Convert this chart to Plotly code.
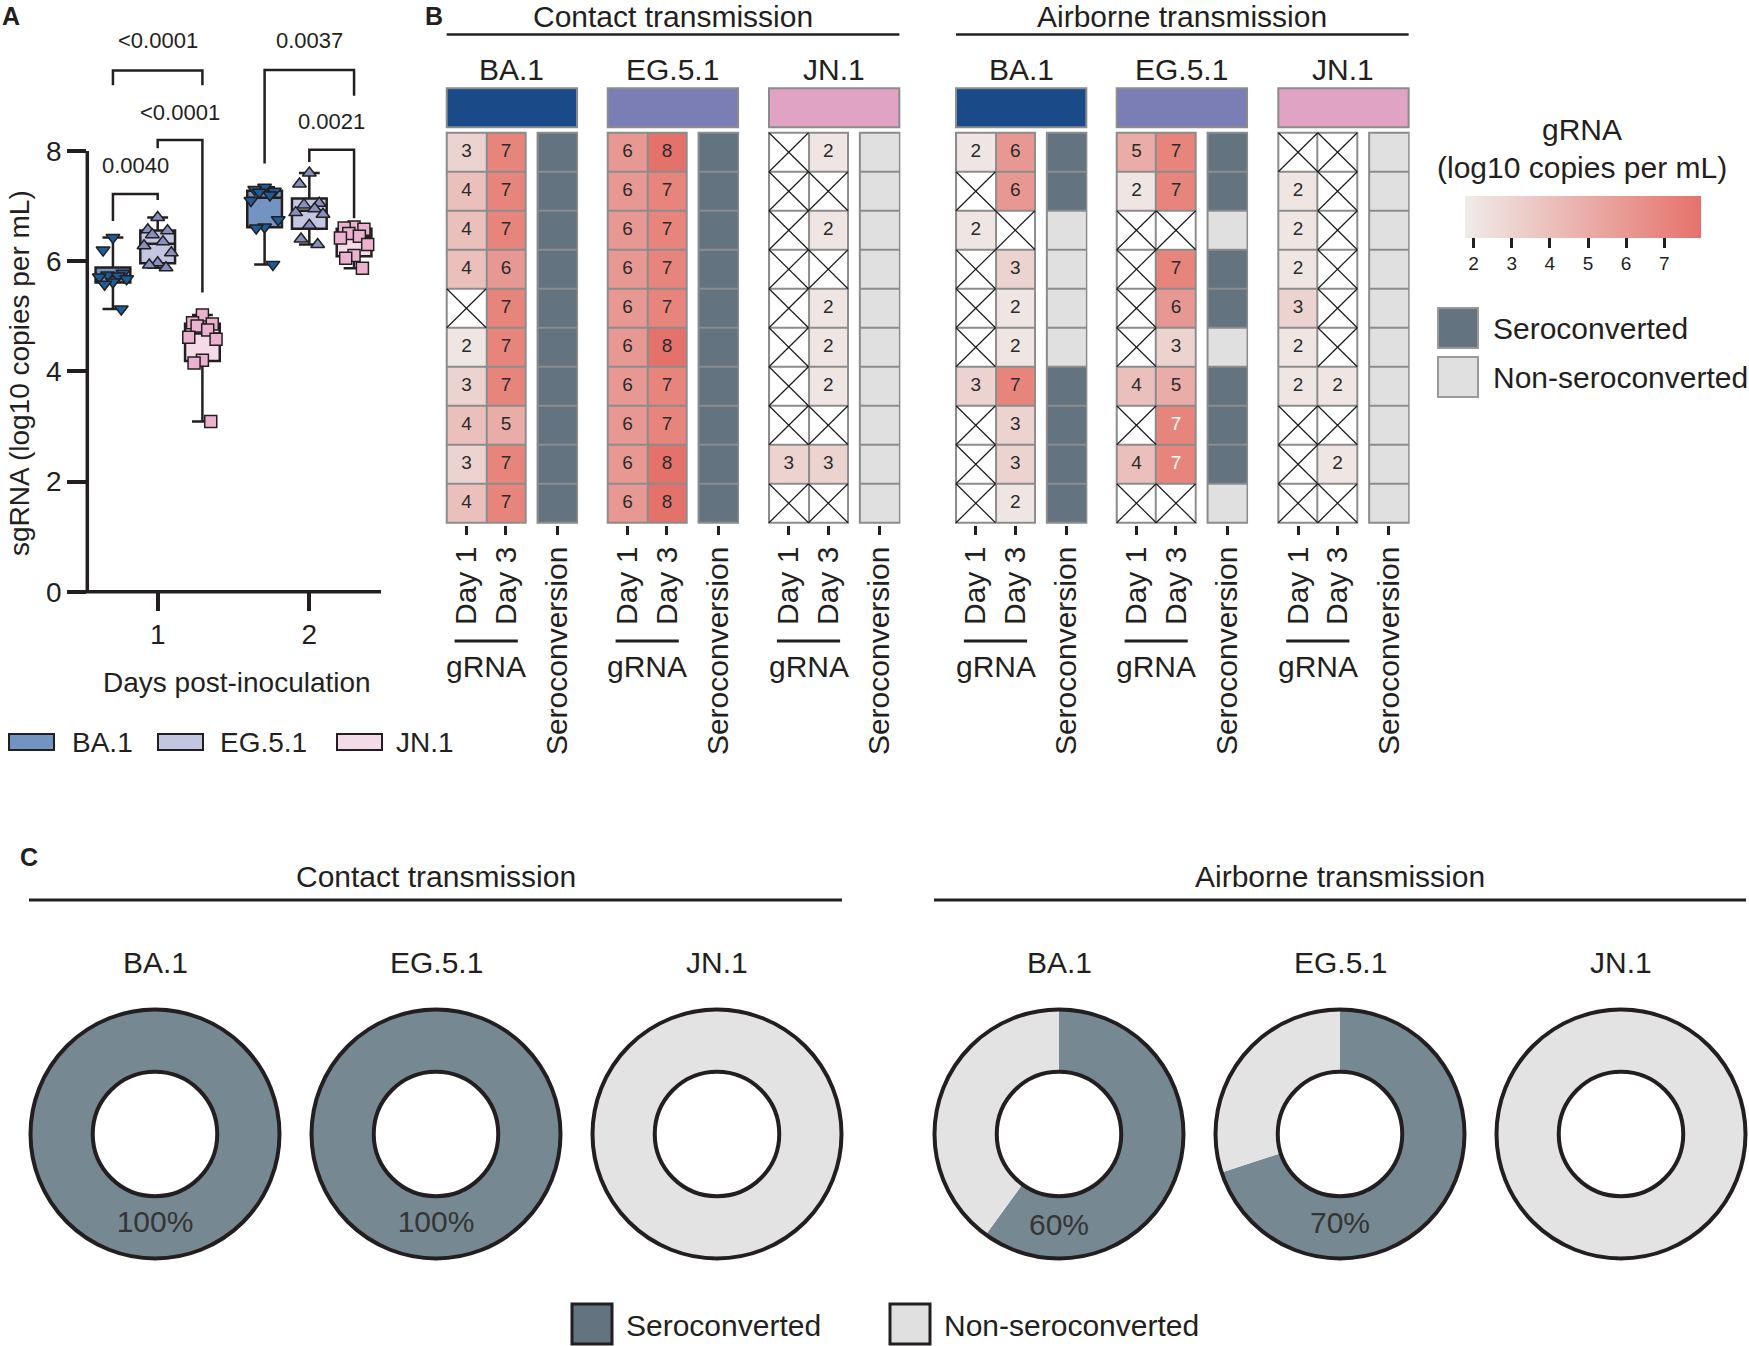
import numpy as np
import plotly.graph_objects as go

W, H = 1749, 1346
FONT = "Liberation Sans, Arial, Helvetica, sans-serif"
INK = "#231f20"

# ---------------- Panel A data (sgRNA, log10 copies per mL) ----------------
DAYS = [1, 2]
VARIANTS = ["BA.1", "EG.5.1", "JN.1"]
SG_BA1_DAY1 = [6.43, 6.20, 5.78, 5.75, 5.73, 5.71, 5.68, 5.62, 5.58, 5.13]
SG_EG51_DAY1 = [6.79, 6.57, 6.55, 6.48, 6.35, 6.28, 6.15, 5.97, 5.93, 5.88]
SG_JN1_DAY1 = [5.02, 4.88, 4.86, 4.82, 4.75, 4.62, 4.58, 4.20, 4.15, 3.09]
SG_BA1_DAY2 = [7.34, 7.30, 7.27, 7.25, 7.20, 7.10, 6.75, 6.62, 6.60, 5.94]
SG_EG51_DAY2 = [7.60, 7.40, 7.05, 7.02, 6.95, 6.88, 6.85, 6.65, 6.40, 6.30]
SG_JN1_DAY2 = [6.62, 6.60, 6.58, 6.50, 6.45, 6.42, 6.30, 6.10, 6.05, 5.87]

# comparisons: day, variant a, variant b, bar level, leg a end, leg b end, label level, p value
COMPARISONS = [
    (1, "BA.1", "EG.5.1", 7.22, 6.73, 7.11, 7.73, "0.0040"),
    (1, "EG.5.1", "JN.1", 8.20, 8.05, 5.43, 8.69, "<0.0001"),
    (1, "BA.1", "JN.1", 9.46, 9.19, 9.19, 10.0, "<0.0001"),
    (2, "BA.1", "JN.1", 9.47, 7.77, 9.00, 10.0, "0.0037"),
    (2, "EG.5.1", "JN.1", 8.02, 7.80, 6.78, 8.53, "0.0021"),
]

# ---------------- Panel B data (gRNA, log10 copies per mL; None = not detected) ----------------
ROUTES = ["Contact transmission", "Airborne transmission"]
COLUMNS = ["Day 1", "Day 3", "Seroconversion"]
CONTACT_BA1_DAY1 = [3, 4, 4, 4, None, 2, 3, 4, 3, 4]
CONTACT_BA1_DAY3 = [7, 7, 7, 6, 7, 7, 7, 5, 7, 7]
CONTACT_BA1_SERO = [1, 1, 1, 1, 1, 1, 1, 1, 1, 1]
CONTACT_EG51_DAY1 = [6, 6, 6, 6, 6, 6, 6, 6, 6, 6]
CONTACT_EG51_DAY3 = [8, 7, 7, 7, 7, 8, 7, 7, 8, 8]
CONTACT_EG51_SERO = [1, 1, 1, 1, 1, 1, 1, 1, 1, 1]
CONTACT_JN1_DAY1 = [None, None, None, None, None, None, None, None, 3, None]
CONTACT_JN1_DAY3 = [2, None, 2, None, 2, 2, 2, None, 3, None]
CONTACT_JN1_SERO = [0, 0, 0, 0, 0, 0, 0, 0, 0, 0]
AIR_BA1_DAY1 = [2, None, 2, None, None, None, 3, None, None, None]
AIR_BA1_DAY3 = [6, 6, None, 3, 2, 2, 7, 3, 3, 2]
AIR_BA1_SERO = [1, 1, 0, 0, 0, 0, 1, 1, 1, 1]
AIR_EG51_DAY1 = [5, 2, None, None, None, None, 4, None, 4, None]
AIR_EG51_DAY3 = [7, 7, None, 7, 6, 3, 5, 7, 7, None]
AIR_EG51_SERO = [1, 1, 0, 1, 1, 0, 1, 1, 1, 0]
AIR_JN1_DAY1 = [None, 2, 2, 2, 3, 2, 2, None, None, None]
AIR_JN1_DAY3 = [None, None, None, None, None, None, 2, None, 2, None]
AIR_JN1_SERO = [0, 0, 0, 0, 0, 0, 0, 0, 0, 0]
WHITE_TEXT_CELLS = [("Airborne transmission", "EG.5.1", 7, 1), ("Airborne transmission", "EG.5.1", 8, 1)]
COLORBAR_TICKS = [2, 3, 4, 5, 6, 7]
SERO_LABELS = ["Seroconverted", "Non-seroconverted"]

# ---------------- styling ----------------
VAR_HEADER = {"BA.1": "#1a4a87", "EG.5.1": "#7b7eb4", "JN.1": "#e0a3c3"}
BOX_FILL = {"BA.1": "#7393c3", "EG.5.1": "#c3c6e1", "JN.1": "#f4dbe8"}
PT_FILL = {"BA.1": "#1d5c9a", "EG.5.1": "#8890c0", "JN.1": "#eab2cf"}
PT_SYMBOL = {"BA.1": "triangle-down", "EG.5.1": "triangle-up", "JN.1": "square"}
SERO_DARK = "#637380"
SERO_LIGHT = "#e0e0e0"
DONUT_DARK = "#768892"
DONUT_LIGHT = "#e3e3e3"
GRID_GRAY = "#8c8c8c"


def PX(x):
    return x / W


def PY(y):
    return 1 - y / H


fig = go.Figure()
shapes = []
annotations = []


def ann(x, y, text, size=30, xanchor="center", yanchor="middle", xref="paper", yref="paper",
        textangle=0, color=INK, bold=False):
    annotations.append(dict(
        x=x, y=y, xref=xref, yref=yref, text=f"<b>{text}</b>" if bold else text,
        showarrow=False, xanchor=xanchor, yanchor=yanchor, textangle=textangle,
        font=dict(family=FONT, size=size, color=color)))


# ======================= Panel A =======================
SG = {
    ("BA.1", 1): SG_BA1_DAY1, ("EG.5.1", 1): SG_EG51_DAY1, ("JN.1", 1): SG_JN1_DAY1,
    ("BA.1", 2): SG_BA1_DAY2, ("EG.5.1", 2): SG_EG51_DAY2, ("JN.1", 2): SG_JN1_DAY2,
}
GROUP_OFFSET = 0.295
BOX_W = 0.229
SPREAD = [0.0, -0.065, 0.065, -0.035, 0.035, -0.09, 0.09, 0.0, -0.055, 0.055]
YMAX_A = 10.25


def pos_of(v, d):
    return d + (VARIANTS.index(v) - 1) * GROUP_OFFSET


for v in VARIANTS:
    for d in DAYS:
        vals = np.array(SG[(v, d)], dtype=float)
        p = pos_of(v, d)
        q1, med, q3 = np.percentile(vals, [25, 50, 75], method="weibull")
        fig.add_trace(go.Box(
            x=[p], q1=[q1], median=[med], q3=[q3],
            lowerfence=[vals.min()], upperfence=[vals.max()],
            width=BOX_W, fillcolor=BOX_FILL[v], line=dict(color=INK, width=2.5),
            whiskerwidth=0.6, boxpoints=False, xaxis="x", yaxis="y",
            showlegend=False, hoverinfo="skip"))
for v in VARIANTS:
    for d in DAYS:
        vals = SG[(v, d)]
        p = pos_of(v, d)
        fig.add_trace(go.Scatter(
            x=[p + SPREAD[i % len(SPREAD)] for i in range(len(vals))], y=vals,
            mode="markers", xaxis="x", yaxis="y", showlegend=False, hoverinfo="skip",
            cliponaxis=False,
            marker=dict(symbol=PT_SYMBOL[v], size=12, color=PT_FILL[v],
                        line=dict(color=INK, width=1.5))))

for d, va, vb, bar, la, lb, ly, lab in COMPARISONS:
    pa, pb = pos_of(va, d), pos_of(vb, d)
    fig.add_trace(go.Scatter(
        x=[pa, pa, pb, pb], y=[la, bar, bar, lb], mode="lines",
        line=dict(color=INK, width=2.5), xaxis="x", yaxis="y",
        showlegend=False, hoverinfo="skip"))
    ann((pa + pb) / 2, ly, lab, size=22, xref="x", yref="y")

A_LEFT, A_RIGHT, A_ZERO, A_UNIT = 87.3, 381.0, 591.7, 55.1
shapes.append(dict(type="line", xref="x domain", yref="y domain", x0=0, x1=0, y0=0, y1=8 / YMAX_A,
                   line=dict(color=INK, width=3.5)))
shapes.append(dict(type="line", xref="x domain", yref="y domain",
                   x0=-(A_LEFT - 68) / (A_RIGHT - A_LEFT), x1=1, y0=0, y1=0,
                   line=dict(color=INK, width=3.5)))
ann(PX(19), PY(373), "sgRNA (log10 copies per mL)", size=28, textangle=-90)
ann(PX(237), PY(682), "Days post-inoculation", size=28)
ann(PX(11), PY(16), "A", size=25, bold=True)

# legend panel A
for v, x0, tx in zip(VARIANTS, [9, 158, 337], [70, 218, 394]):
    shapes.append(dict(type="rect", xref="paper", yref="paper", x0=PX(x0), x1=PX(x0 + 45),
                       y0=PY(750), y1=PY(734), fillcolor=BOX_FILL[v], line=dict(color=INK, width=2)))
    ann(PX(tx), PY(742), v, size=28, xanchor="left")

# ======================= Panel B =======================
BLOCKS = [
    ("Contact transmission", "BA.1", CONTACT_BA1_DAY1, CONTACT_BA1_DAY3, CONTACT_BA1_SERO),
    ("Contact transmission", "EG.5.1", CONTACT_EG51_DAY1, CONTACT_EG51_DAY3, CONTACT_EG51_SERO),
    ("Contact transmission", "JN.1", CONTACT_JN1_DAY1, CONTACT_JN1_DAY3, CONTACT_JN1_SERO),
    ("Airborne transmission", "BA.1", AIR_BA1_DAY1, AIR_BA1_DAY3, AIR_BA1_SERO),
    ("Airborne transmission", "EG.5.1", AIR_EG51_DAY1, AIR_EG51_DAY3, AIR_EG51_SERO),
    ("Airborne transmission", "JN.1", AIR_JN1_DAY1, AIR_JN1_DAY3, AIR_JN1_SERO),
]
BLOCK_LEFT = [446.7, 607.7, 769.0, 956.0, 1116.7, 1278.3]
U, ROW, TOP = 39.5, 39.0, 132.7
SERO_X = 2.3
layout_axes = {}

for i, (route, var, d1, d3, sero) in enumerate(BLOCKS):
    n = i + 2
    xa, ya = f"x{n}", f"y{n}"
    left = BLOCK_LEFT[i]
    nrow = len(d1)
    rows = list(range(nrow))
    grid = [[d1[r], d3[r]] for r in rows]
    # gray underlay (cell borders)
    ex, ey = 1.0 / U, 1.0 / ROW
    for x0, x1 in [(-0.5, 1.5), (SERO_X - 0.5, SERO_X + 0.5)]:
        shapes.append(dict(type="rect", xref=xa, yref=ya, x0=x0 - ex, x1=x1 + ex,
                           y0=-0.5 - ey, y1=nrow - 0.5 + ey, fillcolor=GRID_GRAY,
                           line=dict(width=0), layer="below"))
    # white cells for missing values
    fig.add_trace(go.Heatmap(
        x=[0, 1], y=rows, z=[[1 if c is None else None for c in row] for row in grid],
        colorscale=[[0, "white"], [1, "white"]], showscale=False, xgap=2, ygap=2,
        xaxis=xa, yaxis=ya, hoverinfo="skip"))
    # gRNA values
    fig.add_trace(go.Heatmap(
        x=[0, 1], y=rows, z=[[c for c in row] for row in grid], coloraxis="coloraxis",
        xgap=2, ygap=2, xaxis=xa, yaxis=ya, hoverinfo="skip"))
    # seroconversion
    fig.add_trace(go.Heatmap(
        x=[SERO_X], y=rows, z=[[s] for s in sero], zmin=0, zmax=1,
        colorscale=[[0, SERO_LIGHT], [0.5, SERO_LIGHT], [0.5, SERO_DARK], [1, SERO_DARK]],
        showscale=False, xgap=2, ygap=2, xaxis=xa, yaxis=ya, hoverinfo="skip"))
    # labels in cells
    tx, ty, tt, tc = [], [], [], []
    cx, cy = [], []
    for r in rows:
        for c in range(2):
            val = grid[r][c]
            if val is None:
                cx += [c - 0.5, c + 0.5, None, c - 0.5, c + 0.5, None]
                cy += [r - 0.5, r + 0.5, None, r + 0.5, r - 0.5, None]
            else:
                tx.append(c)
                ty.append(r)
                tt.append(str(val))
                tc.append("white" if (route, var, r, c) in WHITE_TEXT_CELLS else "#2b2b2b")
    fig.add_trace(go.Scatter(x=cx, y=cy, mode="lines", line=dict(color="#1a1a1a", width=1.2),
                             xaxis=xa, yaxis=ya, showlegend=False, hoverinfo="skip"))
    fig.add_trace(go.Scatter(x=tx, y=ty, text=tt, mode="text", xaxis=xa, yaxis=ya,
                             textfont=dict(family=FONT, size=19, color=tc),
                             showlegend=False, hoverinfo="skip"))
    layout_axes[f"xaxis{n}"] = dict(
        domain=[PX(left - 0.05 * U), PX(left + 3.35 * U)], range=[-0.55, 2.85],
        tickvals=[0, 1, SERO_X], ticktext=COLUMNS, tickangle=-90, ticks="outside",
        ticklen=9, tickwidth=2.5, tickcolor=INK, showgrid=False, zeroline=False,
        showline=False, anchor=ya, tickfont=dict(family=FONT, size=30, color=INK))
    layout_axes[f"yaxis{n}"] = dict(
        domain=[PY(TOP + (nrow + 0.05) * ROW), PY(TOP - 0.05 * ROW)],
        range=[nrow - 0.45, -0.55], visible=False, anchor=xa)
    # header colour bar
    shapes.append(dict(type="rect", xref=xa, yref="paper", x0=-0.5, x1=SERO_X + 0.5,
                       y0=PY(127.3), y1=PY(88.3), fillcolor=VAR_HEADER[var],
                       line=dict(color=GRID_GRAY, width=2)))
    ann((-0.5 + SERO_X + 0.5) / 2, PY(69), var, size=30, xref=xa)
    # gRNA underline + label
    shapes.append(dict(type="line", xref=xa, yref="paper", x0=-0.3, x1=1.3,
                       y0=PY(641), y1=PY(641), line=dict(color=INK, width=3)))
    ann(0.5, PY(666), "gRNA", size=30, xref=xa)

# route headers
for k, route in enumerate(ROUTES):
    l = BLOCK_LEFT[3 * k]
    r = BLOCK_LEFT[3 * k + 2] + (SERO_X + 1) * U
    shapes.append(dict(type="line", xref="paper", yref="paper", x0=PX(l), x1=PX(r),
                       y0=PY(34.4), y1=PY(34.4), line=dict(color=INK, width=2.5)))
    ann(PX((l + r) / 2), PY(17), route, size=30)
ann(PX(434), PY(16), "B", size=25, bold=True)

# colour bar title + sero legend
ann(PX(1582), PY(129), "gRNA", size=30)
ann(PX(1582), PY(167), "(log10 copies per mL)", size=30)
for lab, col, y0 in zip(SERO_LABELS, [SERO_DARK, SERO_LIGHT], [308, 357]):
    shapes.append(dict(type="rect", xref="paper", yref="paper", x0=PX(1438), x1=PX(1478),
                       y0=PY(y0 + 40), y1=PY(y0), fillcolor=col, line=dict(color="#999999", width=2)))
    ann(PX(1491), PY(y0 + 20), lab, size=30, xanchor="left")

# ======================= Panel C =======================
DONUT_CX = [155, 436, 717, 1059, 1340, 1621]
DONUT_CY, DONUT_R = 1134, 124.5
for i, (route, var, d1, d3, sero) in enumerate(BLOCKS):
    cx = DONUT_CX[i]
    dom = dict(x=[PX(cx - DONUT_R), PX(cx + DONUT_R)], y=[PY(DONUT_CY + DONUT_R), PY(DONUT_CY - DONUT_R)])
    n_sero = int(sum(sero))
    n_tot = len(sero)
    pct = round(100 * n_sero / n_tot)
    fig.add_trace(go.Pie(
        values=[n_sero, n_tot - n_sero], labels=SERO_LABELS, domain=dom, hole=0.5,
        sort=False, direction="clockwise", rotation=0,
        marker=dict(colors=[DONUT_DARK, DONUT_LIGHT], line=dict(width=0)),
        text=[f"{pct}%", ""], textinfo="text", textposition="inside",
        insidetextorientation="horizontal",
        textfont=dict(family=FONT, size=30, color="#353535"),
        showlegend=False, hoverinfo="skip"))
    fig.add_trace(go.Pie(
        values=[n_tot], labels=["all"], domain=dom, hole=0.5, sort=False,
        marker=dict(colors=["rgba(0,0,0,0)"], line=dict(color=INK, width=4)),
        textinfo="none", showlegend=False, hoverinfo="skip"))
    ann(PX(cx), PY(962), var, size=30)

for k, route in enumerate(ROUTES):
    l, r = [(29, 842), (934, 1746)][k]
    shapes.append(dict(type="line", xref="paper", yref="paper", x0=PX(l), x1=PX(r),
                       y0=PY(900), y1=PY(900), line=dict(color=INK, width=3)))
    ann(PX((l + r) / 2), PY(876), route, size=30)
ann(PX(29), PY(857), "C", size=25, bold=True)

for lab, col, x0, tx in zip(SERO_LABELS, [SERO_DARK, SERO_LIGHT], [572, 890], [624, 942]):
    shapes.append(dict(type="rect", xref="paper", yref="paper", x0=PX(x0), x1=PX(x0 + 40),
                       y0=PY(1344), y1=PY(1304), fillcolor=col, line=dict(color=INK, width=3)))
    ann(PX(tx), PY(1325), lab, size=30, xanchor="left")

fig.update_layout(
    template="none", width=W, height=H, margin=dict(l=0, r=0, t=0, b=0),
    paper_bgcolor="white", plot_bgcolor="rgba(0,0,0,0)", showlegend=False,
    font=dict(family=FONT, color=INK),
    xaxis=dict(domain=[PX(A_LEFT), PX(A_RIGHT)],
               range=[1 - (157.7 - A_LEFT) / 151.7, 2 + (A_RIGHT - 309.3) / 151.7],
               tickvals=DAYS, ticktext=[str(d) for d in DAYS], ticks="outside", ticklen=18,
               tickwidth=3.5, tickcolor=INK, showline=False, showgrid=False, zeroline=False,
               tickfont=dict(family=FONT, size=28, color=INK), anchor="y"),
    yaxis=dict(domain=[PY(A_ZERO), PY(A_ZERO - YMAX_A * A_UNIT)], range=[0, YMAX_A],
               tickvals=[0, 2, 4, 6, 8], ticks="outside", ticklen=19, tickwidth=3.5,
               tickcolor=INK, showline=False, showgrid=False, zeroline=False,
               tickfont=dict(family=FONT, size=28, color=INK), anchor="x"),
    coloraxis=dict(
        colorscale=[[0, "#efebe9"], [1, "#e5726a"]], cmin=1.76, cmax=7.95, showscale=True,
        colorbar=dict(orientation="h", x=PX(1582.5), xanchor="center", y=PY(196), yanchor="top",
                      len=236.4, lenmode="pixels", thickness=42, thicknessmode="pixels",
                      xpad=0, ypad=0, outlinewidth=0, ticks="outside", ticklen=10, tickwidth=2.5,
                      tickcolor=INK, tickvals=COLORBAR_TICKS,
                      tickfont=dict(family=FONT, size=19, color=INK))),
    shapes=shapes, annotations=annotations, **layout_axes)

fig.write_html(
    "out.html", config={"displayModeBar": False},
    post_script="document.body.style.margin='0';document.body.style.overflow='hidden';")
